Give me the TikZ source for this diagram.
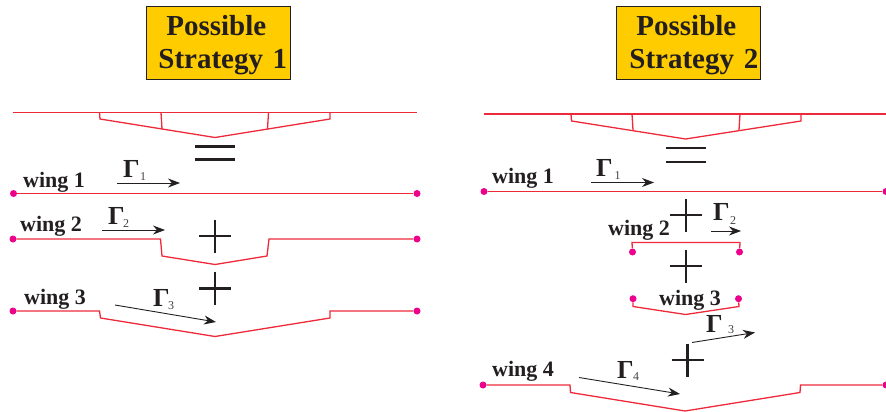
\documentclass[tikz,border=0pt]{standalone}
\usepackage{fontspec}
\setmainfont{Liberation Serif}
\usetikzlibrary{arrows.meta}
\definecolor{wingred}{HTML}{EE2A3A}
\definecolor{dotpink}{HTML}{EC008C}
\definecolor{boxyellow}{HTML}{FFCC00}
\definecolor{inkblack}{HTML}{231F20}
\tikzset{
        >={Stealth[length=12pt,width=9pt]}, % long narrow heads
        x=1pt, y=-1pt, % same units as the pixels of the page
        wing/.style={draw=wingred, line width=1.3pt, line join=miter},
        tip/.style={circle, fill=dotpink, minimum size=7pt, inner sep=0pt},
        circulation/.style={->, draw=inkblack, line width=.9pt},
        sign/.style={draw=inkblack, line width=2.8pt},
        title/.style={draw=inkblack, fill=boxyellow, line width=.8pt, anchor=west, align=left,
                text=inkblack, minimum height=73pt, text width=144pt, inner xsep=0pt, inner ysep=0pt,
                font=\fontsize{29}{33}\selectfont\bfseries},
        wingname/.style={anchor=base west, inner sep=0pt, text=inkblack, font=\fontsize{22}{24}\selectfont\bfseries},
        gam/.style={anchor=base west, inner sep=0pt, text=inkblack, font=\fontsize{26}{28}\selectfont\bfseries},
        gamsub/.style={anchor=base west, inner sep=0pt, text=inkblack!85, font=\fontsize{12}{14}\selectfont},
}
\begin{document}
\begin{tikzpicture}
    \useasboundingbox (0,0) rectangle (886,412);
    \clip (0,0) rectangle (886,412);
    % titles
    \node[title] (title1) at (145.5,43) {\rule{0pt}{24pt}\hspace*{20.5pt}Possible\\\hspace*{12.5pt}Strategy 1};
    \node[title] (title2) at (616,43) {\rule{0pt}{24pt}\hspace*{20pt}Possible\\\hspace*{13pt}Strategy 2};
    % left column
    \draw[wing] (12.5,112.5) -- (417,112.5);
    \draw[wing] (99.5,112.5) -- (100,119) -- (215,137.5) -- (330,119) -- (330,112.5);
    \draw[wing] (161,112.5) -- (162,129);
    \draw[wing] (268.5,112.5) -- (267.5,129);
    \node[tip] (aleft) at (13.5,193.5) {};
    \node[tip] (aright) at (417,193.5) {};
    \draw[wing] (aleft) -- (aright);
    \node[tip] (bleft) at (13,239) {};
    \node[tip] (bright) at (417,239) {};
    \draw[wing] (bleft) -- (160.5,239) -- (162,256) -- (215,264.5) -- (267,256) -- (269,239) -- (bright);
    \node[tip] (cleft) at (13,311) {};
    \node[tip] (cright) at (417,311) {};
    \draw[wing] (cleft) -- (99.5,311) -- (100.5,318) -- (215,336.5) -- (330,318) -- (330,311) -- (cright);
    % right column
    \draw[wing] (484,114) -- (886,114);
    \draw[wing] (571,114) -- (571.5,121) -- (685.5,139) -- (801,121) -- (801,114);
    \draw[wing] (632,114) -- (633,130);
    \draw[wing] (740,114) -- (739,130);
    \node[tip] (pleft) at (484,191.5) {};
    \node[tip] (pright) at (886,191.5) {};
    \draw[wing] (pleft) -- (pright);
    \node[tip] (qleft) at (632.5,252) {};
    \node[tip] (qright) at (739.5,252) {};
    \draw[wing] (qleft) -- (632,242.5) -- (740,242.5) -- (qright);
    \node[tip] (rleft) at (633,298.7) {};
    \node[tip] (rright) at (738.5,298.7) {};
    \draw[wing] (rleft) -- (633,306.5) -- (685.5,314.5) -- (739,306.5) -- (rright);
    \node[tip] (sleft) at (483,385) {};
    \node[tip] (sright) at (886,385) {};
    \draw[wing] (sleft) -- (570,385) -- (570.5,392.5) -- (685,411) -- (800,392.5) -- (800.5,385) -- (sright);
    % equal and plus signs
    \foreach \x/\y in {215/146.5, 215/159.5, 686/148, 686/162}
        \draw[sign] (\x-20,\y) -- (\x+20,\y);
    \foreach \x/\y in {215/236, 215/288.7, 686/215, 686/266, 687.5/360}
        \draw[sign] (\x-16,\y) -- (\x+16,\y) (\x,\y-16.5) -- (\x,\y+16.5);
    % names of the wings
    \foreach \x/\y/\n in {23/187/1, 20/231/2, 24/304/3, 492/183/1, 608/235.7/2, 659/305.7/3, 492/376.7/4}
        \node[wingname] at (\x,\y) {wing \n};
    % circulations
    \foreach \x/\y/\sx/\sy/\n in {123/177/140/180/1, 108/224/123/227/2, 153/306.7/168/309/3,
            596/176/614.5/179/1, 713/220.7/730/224/2, 706/332/728/333/3, 617/378/633/380/4}{
        \node[gam] at (\x,\y) {Γ};
        \node[gamsub] at (\sx,\sy) {\n};
    }
    \foreach \ax/\ay/\bx/\by [count=\i] in {117/183/180/183, 102/230/165/230, 115/305/216/322,
            591/182.5/654/182.5, 711/231/741/231, 692/342.5/755/332.5, 579/377.5/680/394}{
        \coordinate (from\i) at (\ax,\ay);
        \coordinate (to\i) at (\bx,\by);
        \draw[circulation] (from\i) -- (to\i);
    }
\end{tikzpicture}
\end{document}
